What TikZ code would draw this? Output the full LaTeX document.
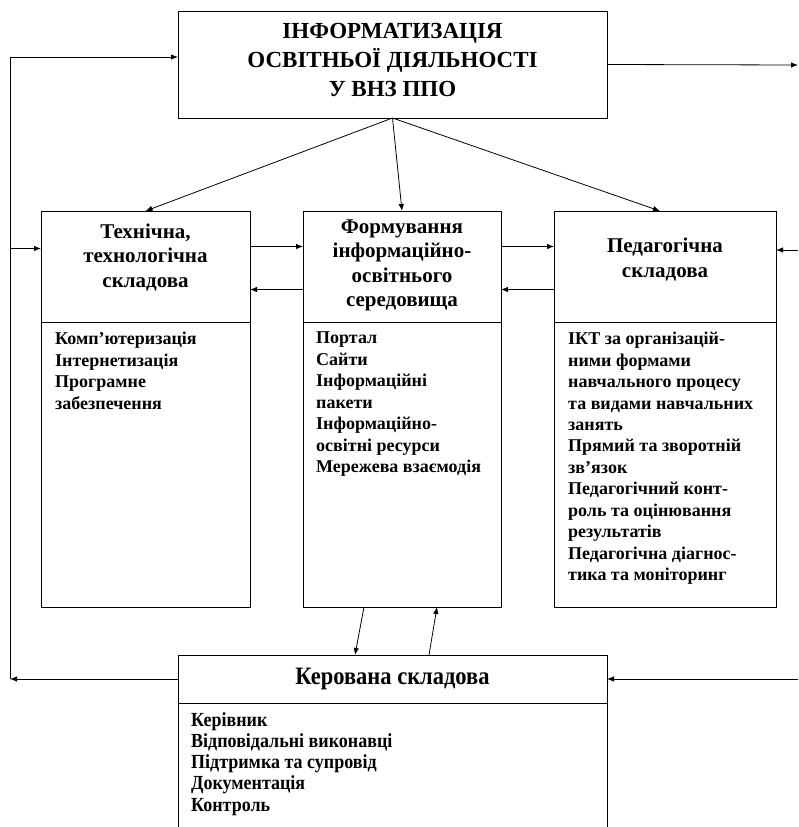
\documentclass[tikz,border=0pt]{standalone}
\usepackage{fontspec}
\setmainfont{Liberation Serif}
\newfontfamily\condserif{Liberation Serif}[UprightFont=*-Bold, BoldFont=*-Bold, FakeStretch=0.9]
\usetikzlibrary{calc,arrows,arrows.meta,positioning}
\tikzset{
    block/.style = {draw, rectangle, line width=0.9pt,
        inner sep=0pt, outer sep=0pt, anchor=north west},
    headtext/.style = {align=center, inner sep=0pt,
        font=\fontsize{21}{24.5}\selectfont\bfseries},
    listtext/.style = {anchor=north west, inner sep=0pt, align=left,
        font=\fontsize{18}{21.45}\selectfont\bfseries},
    line/.style = {draw, line width=0.8pt},
    arrow/.style = {draw, line width=0.8pt, -{Latex[length=7pt,width=5.5pt]}}
}
\begin{document}
\begin{tikzpicture}[x=1pt,y=-1pt]
    \clip (0,0) rectangle (798,827);
    \node[block, minimum width=429pt, minimum height=107pt] (top) at (178,11) {};
    \node[headtext, font=\fontsize{23}{29}\selectfont\bfseries] (toptitle) at ([yshift=5pt]top.center) {ІНФОРМАТИЗАЦІЯ\\ОСВІТНЬОЇ ДІЯЛЬНОСТІ\\У ВНЗ ППО};
    \node[block, minimum width=209pt, minimum height=111pt] (techhead) at (41,211) {};
    \node[block, minimum width=209pt, minimum height=285pt, below=0pt of techhead] (techbody) {};
    \node[headtext] (techtitle) at ([yshift=9pt]techhead.center) {Технічна,\\технологічна\\складова};
    \node[block, minimum width=198pt, minimum height=111pt] (formhead) at (303,211) {};
    \node[block, minimum width=198pt, minimum height=285pt, below=0pt of formhead] (formbody) {};
    \node[headtext] (formtitle) at ([yshift=1pt]formhead.center) {Формування\\інформаційно-\\освітнього\\середовища};
    \node[block, minimum width=222pt, minimum height=111pt] (pedhead) at (554,211) {};
    \node[block, minimum width=222pt, minimum height=285pt, below=0pt of pedhead] (pedbody) {};
    \node[headtext] (pedtitle) at ([yshift=7pt]pedhead.center) {Педагогічна\\складова};
    \node[block, minimum width=429pt, minimum height=48pt] (ctrlhead) at (178,655) {};
    \node[block, minimum width=429pt, minimum height=150pt, below=0pt of ctrlhead] (ctrlbody) {};
    \node[headtext, font=\fontsize{25}{28}\selectfont\condserif] (ctrltitle) at (ctrlhead.center) {Керована складова};

    \node[listtext] (techlist) at (55,332) {Комп’ютеризація\\Інтернетизація\\Програмне\\забезпечення};
    \node[listtext] (formlist) at (316,332) {Портал\\Сайти\\Інформаційні\\пакети\\Інформаційно-\\освітні ресурси\\Мережева взаємодія};
    \node[listtext] (pedlist) at (568,332) {ІКТ за організацій-\\ними формами\\навчального процесу\\та видами навчальних\\занять\\Прямий та зворотній\\зв’язок\\Педагогічний  конт-\\роль та оцінювання\\результатів\\Педагогічна  діагнос-\\тика та моніторинг};
    \node[listtext, font=\fontsize{20}{21.3}\selectfont\condserif] (ctrllist) at (191,712) {Керівник\\Відповідальні виконавці\\Підтримка та супровід\\Документація\\Контроль};

    \draw[arrow] (top.south) -- (techhead.north);
    \draw[arrow] (top.south) -- (formhead.north);
    \draw[arrow] (top.south) -- ([xshift=-5pt]pedhead.north);
    \draw[arrow] ([yshift=20pt]techhead.east) -- ([yshift=20pt]formhead.west);
    \draw[arrow] ([yshift=-23pt]formhead.west) -- ([yshift=-23pt]techhead.east);
    \draw[arrow] ([yshift=20pt]formhead.east) -- ([yshift=20pt]pedhead.west);
    \draw[arrow] ([yshift=-23pt]pedhead.west) -- ([yshift=-23pt]formhead.east);
    \draw[arrow] ([xshift=-38pt]formbody.south) -- ([xshift=-37.5pt]ctrlhead.north);
    \draw[arrow] ([xshift=36.5pt]ctrlhead.north) -- ([xshift=35pt]formbody.south);

    \coordinate (lbot) at (10,679);
    \coordinate (ltop) at (10,57);
    \coordinate (techin) at ([yshift=18pt]techhead.west);
    \draw[arrow] (ctrlhead.west) -- (lbot);
    \draw[line] (lbot) -- (ltop);
    \draw[arrow] (ltop) -- (ltop -| top.west);
    \draw[arrow] (ltop |- techin) -- (techin);

    \coordinate (rtop) at (798,65);
    \coordinate (rped) at (798,250);
    \coordinate (rbot) at (798,679);
    \draw[arrow] (top.east) -- (rtop);
    \draw[arrow] (rped) -- (rped -| pedhead.east);
    \draw[arrow] (rbot) -- (ctrlhead.east);
\end{tikzpicture}
\end{document}
